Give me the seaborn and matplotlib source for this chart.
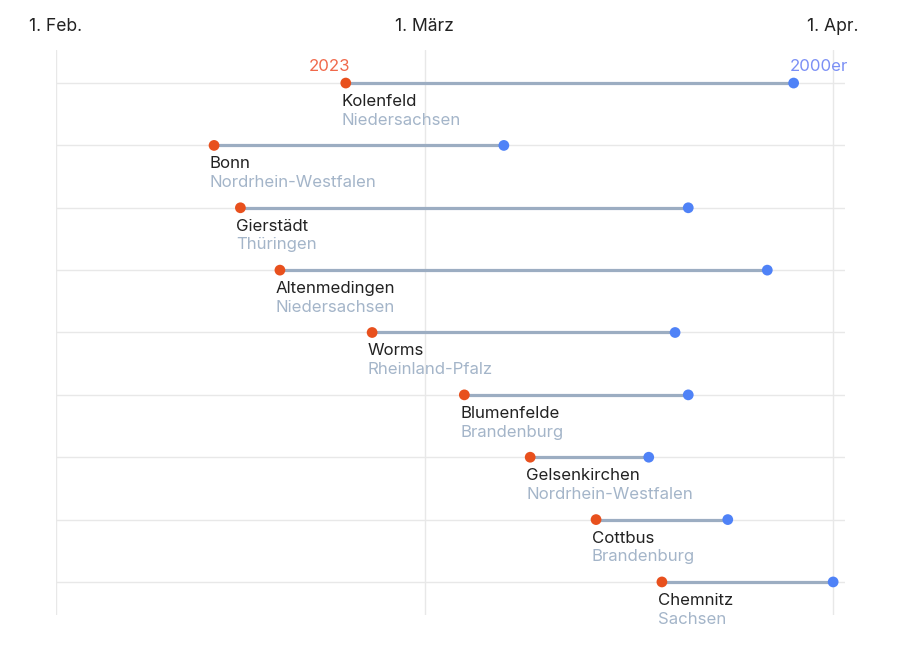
import pandas as pd
import numpy as np
import matplotlib
matplotlib.use('Agg')
import matplotlib.pyplot as plt
import seaborn as sns

cities = ['Kolenfeld', 'Bonn', 'Gierstädt', 'Altenmedingen', 'Worms',
          'Blumenfelde', 'Gelsenkirchen', 'Cottbus', 'Chemnitz']
states = ['Niedersachsen', 'Nordrhein-Westfalen', 'Thüringen', 'Niedersachsen',
          'Rheinland-Pfalz', 'Brandenburg', 'Nordrhein-Westfalen', 'Brandenburg', 'Sachsen']
dates_2023 = ['2023-02-23', '2023-02-13', '2023-02-15', '2023-02-18', '2023-02-25',
              '2023-03-04', '2023-03-09', '2023-03-14', '2023-03-19']
dates_2000s = ['2023-03-29', '2023-03-07', '2023-03-21', '2023-03-27', '2023-03-20',
               '2023-03-21', '2023-03-18', '2023-03-24', '2023-04-01']
tick_dates = ['2023-02-01', '2023-03-01', '2023-04-01']
tick_labels = ['1. Feb.', '1. März', '1. Apr.']

df = pd.DataFrame({
    'city': cities,
    'state': states,
    'd2023': pd.to_datetime(dates_2023),
    'd2000': pd.to_datetime(dates_2000s),
})
df['row'] = np.arange(len(df))

red = '#e8501d'
blue = '#4f82f7'
line_col = '#9cadc2'
state_col = '#a4b5c9'
grid_col = '#e8e8e8'

sns.set_style('white')
plt.rcParams['font.family'] = ['Inter', 'DejaVu Sans']

fig = plt.figure(figsize=(9, 6.5), dpi=100)
ax = fig.add_axes([56 / 900, 1 - 615 / 650, (845 - 56) / 900, (615 - 50) / 650])

ax.hlines(df['row'], df['d2023'], df['d2000'], color=line_col, lw=2.3, zorder=2)
sns.scatterplot(data=df, x='d2023', y='row', color=red, s=60, edgecolor='none', zorder=3, ax=ax)
sns.scatterplot(data=df, x='d2000', y='row', color=blue, s=60, edgecolor='none', zorder=3, ax=ax)

x0 = pd.Timestamp('2023-02-01')
ax.set_xlim(x0, pd.Timestamp('2023-04-01') + pd.Timedelta(days=0.9))
ax.set_ylim(8.53, -0.53)

# grid lines
for r in df['row']:
    ax.axhline(r, color=grid_col, lw=1, zorder=1)
for t in pd.to_datetime(tick_dates):
    ax.axvline(t, color=grid_col, lw=1, zorder=1)

ax.xaxis.tick_top()
ax.set_xticks(pd.to_datetime(tick_dates))
ax.set_xticklabels(tick_labels, fontsize=12.6, color='#222222')
ax.tick_params(axis='x', length=0, pad=11)
ax.set_yticks([])
ax.set_xlabel('')
ax.set_ylabel('')
for s in ax.spines.values():
    s.set_visible(False)

for _, r in df.iterrows():
    ax.annotate(r['city'], (r['d2023'], r['row']), xytext=(-3, -16.5), textcoords='offset points',
                ha='left', va='baseline', fontsize=12.1, color='#222222')
    ax.annotate(r['state'], (r['d2023'], r['row']), xytext=(-3, -30), textcoords='offset points',
                ha='left', va='baseline', fontsize=12.1, color=state_col, annotation_clip=False)

first = df.iloc[0]
ax.annotate('2023', (first['d2023'], first['row']), xytext=(3, 9), textcoords='offset points',
            ha='right', va='baseline', fontsize=12.1, color='#f0694b', annotation_clip=False)
ax.annotate('2000er', (first['d2000'], first['row']), xytext=(-3, 9), textcoords='offset points',
            ha='left', va='baseline', fontsize=12.1, color='#7b8ff5', annotation_clip=False)

fig.savefig('out.png', dpi=100)
